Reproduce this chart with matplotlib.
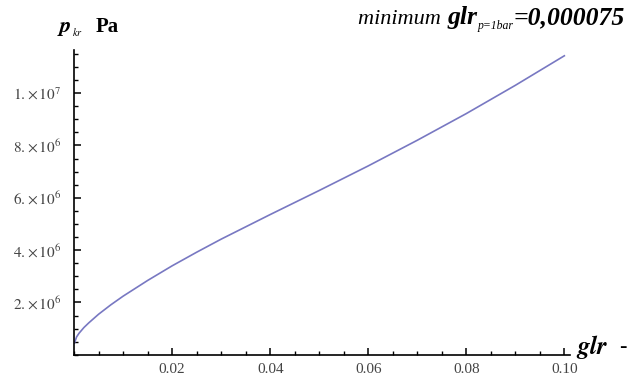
import matplotlib
matplotlib.use("Agg")
import matplotlib.pyplot as plt
from matplotlib.ticker import MultipleLocator, FuncFormatter

plt.rcParams['font.family'] = ['Liberation Serif', 'DejaVu Serif']
plt.rcParams['mathtext.fontset'] = 'stix'

# gas-liquid ratio vs critical pressure
glr = [0.000075, 0.0005, 0.001, 0.002, 0.003, 0.005, 0.0075, 0.01, 0.015, 0.02,
       0.025, 0.03, 0.04, 0.05, 0.06, 0.07, 0.08, 0.09, 0.10]
p_kr = [0.45e6, 0.68e6, 0.82e6, 1.04e6, 1.22e6, 1.55e6, 1.91e6, 2.24e6, 2.84e6, 3.40e6,
        3.92e6, 4.42e6, 5.36e6, 6.28e6, 7.22e6, 8.20e6, 9.22e6, 10.30e6, 11.43e6]

x_ticks = [0.02, 0.04, 0.06, 0.08, 0.10]
y_ticks = [2e6, 4e6, 6e6, 8e6, 1e7]

fig = plt.figure(figsize=(6.28, 3.79), dpi=100)
ax = fig.add_axes([0.118, 0.064, 0.79, 0.804])
ax.plot(glr, p_kr, color='#7878c2', lw=1.2)

ax.set_xlim(0, 0.1012)
ax.set_ylim(0, 11.65e6)
for s in ['top', 'right']:
    ax.spines[s].set_visible(False)
for s in ['left', 'bottom']:
    ax.spines[s].set_linewidth(1.2)

ax.set_xticks(x_ticks)
ax.set_yticks(y_ticks)
ax.xaxis.set_minor_locator(MultipleLocator(0.005))
ax.yaxis.set_minor_locator(MultipleLocator(0.5e6))
ax.tick_params(which='major', direction='in', length=5, width=1.1,
               labelsize=11, labelcolor='#444444')
ax.tick_params(axis='y', which='major', pad=9)
ax.tick_params(axis='x', which='major', pad=6)
ax.tick_params(which='minor', direction='in', length=3, width=1.0)
ax.xaxis.set_major_formatter(FuncFormatter(lambda v, p: f'{v:.2f}'))


def sci(v, p):
    e = len(str(int(v))) - 1
    m = v / 10 ** e
    return r'$%d.\!\times 10^{%d}$' % (round(m), e)


ax.yaxis.set_major_formatter(FuncFormatter(sci))

# axis labels
fig.text(57 / 628, 1 - 28 / 379, r'$\mathbfit{p}$', fontsize=16, va='center')
fig.text(72 / 628, 1 - 32 / 379, r'$\mathit{kr}$', fontsize=7.5, va='center')
fig.text(96 / 628, 1 - 27 / 379, 'Pa', fontsize=15, fontweight='bold', va='center')
fig.text(576 / 628, 1 - 347 / 379, r'$\mathbfit{glr}$', fontsize=18, va='center')
fig.text(619 / 628, 1 - 347 / 379, '-', fontsize=16, fontweight='bold', va='center')

# title, built right to left from pieces
r = fig.canvas.get_renderer()
pieces = [('=0,000075', 18.5, 'bold', 0),
          ('p=1bar', 8.5, 'normal', -5),
          ('glr', 18.5, 'bold', 0),
          ('minimum ', 16, 'normal', 0)]
xr = 625
for s, fs, fw, dy in pieces:
    t = fig.text(xr / 628, (379 - 24 + dy) / 379, s, fontsize=fs, fontweight=fw,
                 fontstyle='italic', ha='right', va='baseline')
    bb = t.get_window_extent(renderer=r)
    xr = xr - bb.width - (1 if s == 'glr' else 0)

fig.savefig('out.png', dpi=100)
